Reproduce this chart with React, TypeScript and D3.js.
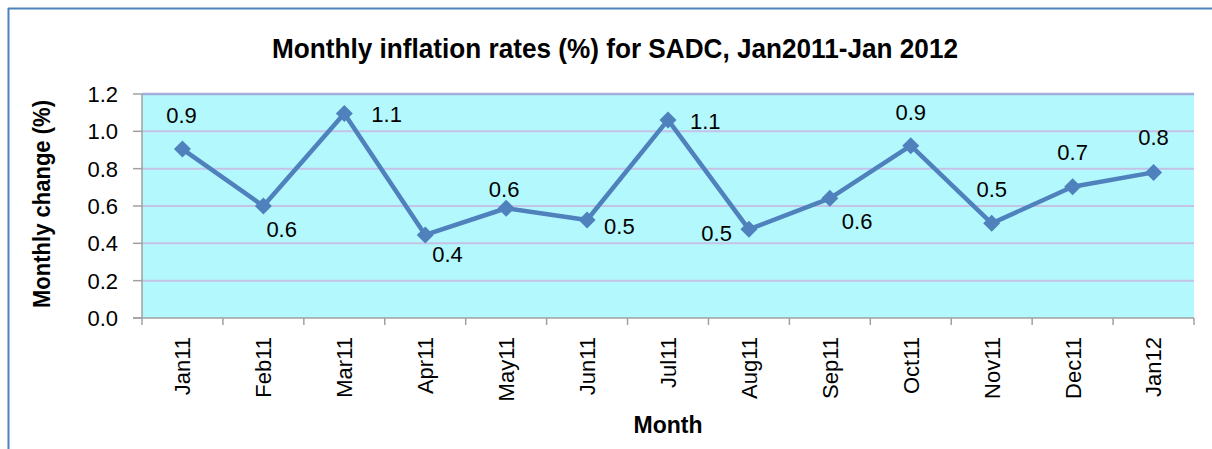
import React from "react";
import * as d3 from "d3";

const months = ["Jan11","Feb11","Mar11","Apr11","May11","Jun11","Jul11","Aug11","Sep11","Oct11","Nov11","Dec11","Jan12"];
const values = [0.905, 0.60, 1.096, 0.445, 0.588, 0.525, 1.061, 0.475, 0.641, 0.923, 0.507, 0.703, 0.78];
const valueLabels = ["0.9","0.6","1.1","0.4","0.6","0.5","1.1","0.5","0.6","0.9","0.5","0.7","0.8"];
const yTicks = [0, 0.2, 0.4, 0.6, 0.8, 1.0, 1.2];
const titleText = "Monthly inflation rates (%) for SADC, Jan2011-Jan 2012";
const xTitle = "Month";
const yTitle = "Monthly change (%)";

// label placement: [dx, dy, anchor]
const labelPlacement: [number, number, string][] = [
  [-1, -26, "middle"],
  [3, 31, "start"],
  [27, 9, "start"],
  [7, 27, "start"],
  [-2, -11, "middle"],
  [17, 14, "start"],
  [22, 9, "start"],
  [-17, 12, "end"],
  [12, 31, "start"],
  [0, -26, "middle"],
  [0, -26, "middle"],
  [0, -27, "middle"],
  [0, -27, "middle"],
];

const W = 1212, H = 449;
const L = 142, R = 1194, T = 94, B = 318;
const FONT = "'Liberation Sans', Arial, sans-serif";
const BLUE = "#4F81BD";

export default function App() {
  const x = d3.scaleBand<string>().domain(months).range([L, R]).padding(0);
  const y = d3.scaleLinear().domain([0, 1.2]).range([B, T]);
  const cx = (m: string) => (x(m) as number) + x.bandwidth() / 2;
  const line = d3.line<number>().x((_, i) => cx(months[i])).y(v => y(v));
  const boundaries = months.map(m => x(m) as number).concat([R]);

  return (
    <svg width={W} height={H} style={{ position: "absolute", left: 0, top: 0, background: "#fff" }}>
      <rect x={0} y={0} width={W} height={H} fill="#fff" />
      {/* outer frame */}
      <line x1={8.5} y1={8} x2={8.5} y2={H} stroke={BLUE} strokeWidth={2} />
      <line x1={8} y1={8.5} x2={W} y2={8.5} stroke={BLUE} strokeWidth={2} />

      <text x={615} y={58} textAnchor="middle" fontFamily={FONT} fontWeight="bold" fontSize={27}
        textLength={686} lengthAdjust="spacingAndGlyphs" fill="#000">{titleText}</text>

      {/* plot area */}
      <rect x={L} y={T} width={R - L} height={B - T} fill="#B3F8FD" />
      {yTicks.filter(t => t > 0).map(t => (
        <line key={t} x1={L} x2={R} y1={y(t)} y2={y(t)}
          stroke={t === 1.2 ? "#A4AEDC" : "#C6C2E6"} strokeWidth={t === 1.2 ? 2.5 : 2} />
      ))}

      {/* axes */}
      <line x1={L} x2={L} y1={T} y2={B} stroke="#A0A0A0" strokeWidth={1.5} />
      <line x1={L - 9} x2={R} y1={B} y2={B} stroke="#A0A0A0" strokeWidth={1.5} />
      {yTicks.map(t => (
        <g key={t}>
          <line x1={L - 9} x2={L} y1={y(t)} y2={y(t)} stroke="#A0A0A0" strokeWidth={1.5} />
          <text x={118} y={y(t)} dy="0.36em" textAnchor="end" fontFamily={FONT} fontSize={22} fill="#000">
            {t.toFixed(1)}
          </text>
        </g>
      ))}
      {boundaries.map((b, i) => (
        <line key={i} x1={b} x2={b} y1={B} y2={B + 7} stroke="#A0A0A0" strokeWidth={1.5} />
      ))}
      {months.map(m => (
        <text key={m} transform={`translate(${cx(m)},337) rotate(-90)`} dy="0.36em" textAnchor="end"
          fontFamily={FONT} fontSize={22} fill="#000">{m}</text>
      ))}

      <text x={668} y={433} textAnchor="middle" fontFamily={FONT} fontWeight="bold" fontSize={24}
        textLength={69} lengthAdjust="spacingAndGlyphs" fill="#000">{xTitle}</text>
      <text transform="translate(42,204) rotate(-90)" dy="0.36em" textAnchor="middle" fontFamily={FONT}
        fontWeight="bold" fontSize={23} textLength={208} lengthAdjust="spacingAndGlyphs" fill="#000">{yTitle}</text>

      {/* series */}
      <path d={line(values) || ""} fill="none" stroke={BLUE} strokeWidth={4.5} strokeLinejoin="round" />
      {values.map((v, i) => {
        const px = cx(months[i]), py = y(v), s = 8.5;
        return (
          <path key={i} d={`M${px},${py - s}L${px + s},${py}L${px},${py + s}L${px - s},${py}Z`} fill={BLUE} />
        );
      })}
      {values.map((v, i) => {
        const [dx, dy, anchor] = labelPlacement[i];
        return (
          <text key={i} x={cx(months[i]) + dx} y={y(v) + dy} textAnchor={anchor as any}
            fontFamily={FONT} fontSize={22} fill="#000">{valueLabels[i]}</text>
        );
      })}
    </svg>
  );
}
